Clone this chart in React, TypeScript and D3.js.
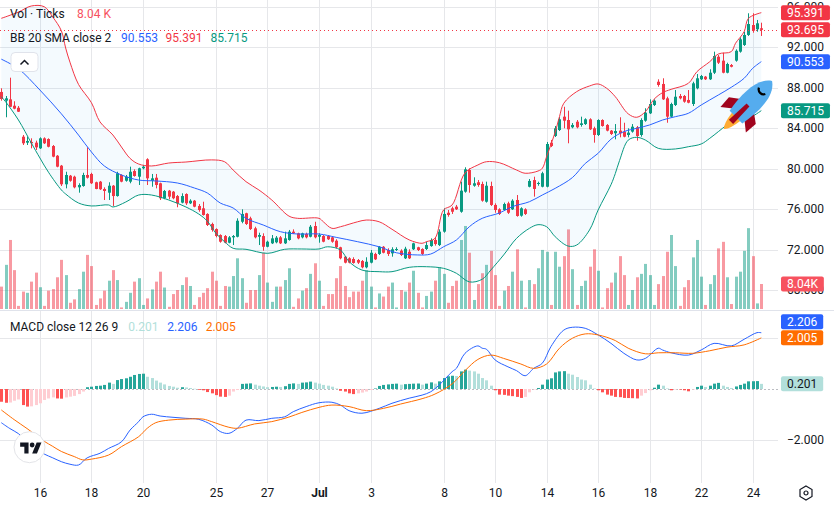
import * as d3 from 'd3';

// 4h candles, index 0 = first visible bar
const opens = [
  87.56, 86.7, 86.83, 86.2, 86.0, 83.14, 82.55, 82.62, 82.55, 81.99,
  82.98, 82.91, 82.22, 81.26, 80.28, 78.44, 79.29, 79.19, 78.14, 78.27,
  79.36, 79.46, 78.64, 78.7, 77.98, 77.61, 78.3, 77.28, 79.36, 78.79,
  78.7, 79.75, 79.19, 80.02, 80.91, 78.79, 79.09, 78.54, 77.06, 77.81,
  77.71, 77.28, 76.63, 77.48, 76.56, 76.82, 76.3, 76.07, 75.51, 74.52,
  74.02, 73.43, 73.33, 72.67, 73.2, 73.26, 74.74, 75.58, 75.08, 74.09,
  73.26, 73.33, 72.27, 72.61, 72.71, 73.2, 72.61, 72.94, 73.76, 73.6,
  73.2, 73.53, 73.26, 74.32, 73.26, 73.33, 73.33, 73.2, 72.87, 72.22,
  71.29, 71.13, 71.06, 70.96, 70.86, 70.24, 70.7, 71.56, 71.56, 72.27,
  71.95, 71.62, 71.95, 71.88, 71.13, 71.78, 72.02, 72.22, 72.05, 72.05,
  72.34, 72.94, 72.44, 73.76, 75.63, 76.07, 76.23, 75.73, 77.71, 79.85,
  78.3, 78.64, 78.47, 76.72, 78.27, 76.4, 75.97, 75.9, 76.56, 75.97,
  76.89, 75.34, 75.97, 78.2, 78.86, 78.47, 78.2, 78.2, 82.55, 83.21,
  83.8, 85.12, 84.79, 84.07, 84.62, 84.3, 84.39, 84.86, 83.97, 83.31,
  84.79, 84.3, 83.74, 83.48, 83.74, 83.64, 83.31, 83.64, 84.07, 83.31,
  84.72, 85.45, 86.27, 88.57, 88.35, 86.93, 85.12, 86.27, 87.16, 87.16,
  86.77, 86.37, 87.92, 88.81, 89.07, 88.81, 89.46, 91.04, 90.65, 89.46,
  90.22, 90.65, 91.54, 92.2, 93.19, 94.17, 93.75, 93.85,
];
const highs = [
  87.92, 87.16, 88.97, 86.64, 86.17, 83.31, 83.14, 82.98, 82.75, 83.08,
  83.08, 82.98, 82.32, 81.33, 80.35, 79.68, 79.36, 79.29, 78.54, 79.58,
  82.09, 79.58, 78.7, 78.77, 78.14, 78.64, 78.37, 79.68, 79.43, 79.36,
  80.18, 79.92, 80.08, 80.35, 81.01, 79.46, 79.46, 78.6, 77.88, 77.88,
  77.78, 77.38, 77.55, 77.55, 76.96, 76.89, 76.49, 76.72, 75.58, 74.65,
  74.09, 73.5, 73.43, 73.33, 73.43, 75.08, 75.97, 75.63, 75.24, 74.25,
  73.66, 73.6, 72.87, 73.43, 73.33, 73.33, 73.76, 73.93, 73.99, 73.66,
  73.66, 73.66, 74.42, 74.74, 73.6, 73.43, 73.43, 73.33, 73.01, 72.27,
  71.36, 71.23, 71.23, 71.06, 70.96, 71.23, 71.95, 71.68, 72.34, 72.34,
  72.12, 72.22, 72.22, 72.02, 72.27, 72.02, 72.67, 72.27, 72.12, 72.77,
  73.1, 73.2, 73.99, 76.07, 75.9, 76.23, 76.4, 78.7, 80.12, 80.02,
  79.13, 78.86, 78.7, 78.7, 78.7, 76.56, 76.07, 76.63, 76.72, 76.96,
  77.38, 76.17, 76.07, 78.96, 79.19, 78.7, 79.68, 82.62, 82.82, 84.2,
  85.09, 86.1, 85.71, 84.49, 84.79, 85.12, 84.96, 84.96, 84.13, 84.86,
  84.86, 84.39, 83.8, 84.39, 85.06, 84.52, 83.97, 84.39, 84.2, 84.96,
  85.95, 86.83, 86.83, 88.81, 88.91, 87.09, 86.5, 87.75, 87.36, 87.26,
  87.75, 88.57, 89.33, 89.24, 89.14, 89.8, 91.54, 91.21, 91.44, 90.45,
  90.32, 91.77, 92.96, 93.51, 95.33, 95.33, 94.67, 94.4,
];
const lows = [
  86.7, 85.06, 86.07, 85.85, 85.58, 82.32, 82.32, 81.99, 81.83, 81.93,
  82.42, 82.09, 81.11, 80.12, 78.27, 78.04, 78.7, 78.04, 77.61, 78.2,
  79.01, 78.47, 77.95, 77.88, 76.89, 76.89, 76.3, 77.22, 78.64, 78.7,
  78.54, 79.19, 78.37, 79.92, 78.37, 78.2, 78.04, 76.89, 76.96, 76.96,
  76.96, 76.17, 76.56, 76.4, 76.49, 76.17, 75.73, 75.35, 74.32, 73.76,
  73.2, 72.67, 72.61, 72.61, 72.44, 73.2, 74.59, 74.42, 73.93, 73.1,
  72.44, 71.88, 72.22, 72.54, 72.61, 72.54, 72.54, 72.87, 73.53, 73.01,
  73.1, 73.1, 73.2, 73.1, 72.67, 72.71, 72.94, 72.67, 72.12, 71.03,
  70.63, 70.63, 70.6, 70.57, 70.14, 70.14, 70.63, 70.96, 71.46, 71.62,
  71.36, 71.29, 71.85, 71.36, 71.06, 71.06, 71.95, 71.85, 71.46, 71.95,
  72.27, 72.38, 72.34, 73.66, 75.24, 75.51, 75.9, 75.63, 77.61, 77.61,
  78.2, 78.2, 76.72, 76.63, 76.3, 75.63, 75.41, 75.83, 75.51, 75.9,
  75.24, 75.24, 75.41, 78.14, 77.22, 78.3, 78.14, 78.14, 82.12, 83.11,
  83.7, 83.97, 82.49, 83.97, 83.97, 84.13, 84.3, 83.8, 82.55, 83.21,
  84.13, 83.67, 83.31, 82.88, 83.08, 83.08, 83.08, 83.54, 82.75, 83.14,
  84.62, 85.38, 86.17, 88.08, 86.77, 84.52, 85.06, 86.17, 86.83, 86.5,
  86.44, 86.17, 87.82, 88.74, 88.74, 88.74, 89.33, 90.32, 89.4, 89.4,
  89.99, 90.55, 91.44, 92.1, 93.09, 93.41, 93.51, 93.09,
];
const closes = [
  86.86, 86.93, 86.1, 85.91, 85.61, 82.49, 82.72, 82.49, 82.09, 82.98,
  82.49, 82.15, 81.17, 80.18, 78.44, 79.36, 78.79, 78.14, 78.37, 79.36,
  79.09, 78.54, 77.98, 77.95, 77.78, 78.3, 77.28, 79.53, 78.7, 79.19,
  79.68, 79.26, 80.02, 80.18, 79.03, 79.03, 78.37, 77.06, 77.78, 77.22,
  77.06, 76.56, 77.28, 76.56, 76.82, 76.23, 75.9, 75.41, 74.42, 73.93,
  73.33, 72.77, 72.67, 73.2, 73.33, 74.84, 75.51, 74.52, 74.02, 73.2,
  73.43, 72.27, 72.77, 73.1, 73.17, 72.61, 73.1, 73.76, 73.6, 73.1,
  73.6, 73.2, 74.25, 73.2, 73.43, 72.77, 73.01, 72.77, 72.22, 71.13,
  70.7, 70.7, 70.67, 70.7, 70.24, 70.79, 71.68, 71.03, 72.27, 71.68,
  71.56, 72.02, 72.05, 71.46, 72.08, 71.13, 72.61, 71.95, 71.56, 72.44,
  72.94, 72.54, 73.76, 75.51, 75.41, 75.73, 75.97, 77.81, 79.92, 78.37,
  78.54, 78.37, 76.82, 78.3, 76.4, 75.9, 75.51, 76.49, 75.63, 76.82,
  75.31, 76.07, 75.51, 78.77, 77.98, 78.57, 79.53, 82.42, 82.22, 83.97,
  84.86, 84.72, 83.87, 84.3, 84.07, 84.46, 84.86, 83.87, 83.31, 84.79,
  84.2, 83.74, 83.41, 83.7, 83.48, 83.14, 83.54, 84.13, 83.21, 84.79,
  85.51, 86.37, 86.7, 88.25, 86.83, 85.12, 86.37, 87.09, 86.93, 86.6,
  86.5, 88.41, 88.91, 89.14, 88.81, 89.46, 91.11, 90.45, 89.46, 90.32,
  90.05, 91.63, 92.76, 93.19, 94.27, 93.61, 94.34, 93.695,
];
// volume in thousands
const volumes = [
  7.2, 14.2, 22.2, 12.5, 1.0, 5.6, 5.2, 8.8, 11.7, 7.0,
  1.0, 5.9, 6.4, 10.2, 15.8, 10.9, 2.0, 3.1, 6.4, 12.0,
  17.4, 13.8, 1.3, 3.4, 5.9, 9.1, 12.5, 9.3, 0.5, 2.3,
  5.2, 8.8, 9.9, 1.3, 3.4, 6.3, 8.8, 12.0, 6.9, 0.7,
  4.8, 6.1, 7.7, 10.2, 7.4, 1.3, 3.8, 5.2, 6.7, 12.0,
  9.1, 1.0, 7.4, 7.2, 10.6, 16.3, 9.9, 2.0, 6.1, 6.1,
  10.9, 18.1, 8.5, 2.3, 7.2, 7.2, 9.3, 13.1, 0.7, 3.4,
  5.9, 6.7, 11.3, 14.7, 9.1, 1.0, 4.8, 4.8, 9.9, 13.8,
  7.4, 3.8, 5.6, 5.6, 9.1, 12.5, 7.2, 0.5, 5.0, 4.0,
  7.2, 8.5, 0.5, 6.1, 5.6, 8.5, 12.3, 5.2, 0.5, 4.2,
  5.6, 9.1, 13.5, 11.3, 2.0, 7.4, 9.1, 22.2, 26.7, 18.1,
  2.9, 8.0, 11.5, 14.2, 18.7, 10.9, 1.0, 5.9, 7.4, 12.0,
  19.2, 9.1, 0.5, 9.3, 8.0, 13.1, 19.0, 18.4, 1.3, 18.4,
  13.6, 17.0, 25.6, 12.8, 1.3, 7.4, 9.1, 13.6, 19.2, 12.3,
  0.5, 6.7, 8.5, 11.7, 17.0, 10.9, 1.3, 6.1, 10.2, 11.3,
  14.5, 10.9, 1.3, 8.0, 10.6, 18.4, 23.8, 13.8, 1.0, 7.0,
  9.3, 16.6, 22.2, 10.4, 1.3, 8.0, 10.9, 19.5, 21.6, 10.2,
  1.6, 10.4, 12.0, 18.7, 26.0, 17.0, 1.8, 8.04,
];
const macdHist = [
  -0.5, -0.54, -0.53, -0.46, -0.41, -0.63, -0.69, -0.68, -0.63, -0.56,
  -0.43, -0.37, -0.33, -0.37, -0.38, -0.33, -0.3, -0.27, -0.2, -0.1,
  0.07, 0.09, 0.12, 0.13, 0.16, 0.25, 0.2, 0.35, 0.39, 0.42,
  0.48, 0.55, 0.59, 0.6, 0.48, 0.43, 0.33, 0.25, 0.18, 0.12,
  0.09, 0.05, 0.07, 0.06, 0.04, 0.01, -0.03, -0.05, -0.12, -0.17,
  -0.24, -0.3, -0.31, -0.26, -0.1, -0.04, 0.2, 0.21, 0.22, 0.17,
  0.13, 0.1, 0.07, 0.08, 0.09, 0.08, 0.11, 0.2, 0.22, 0.2,
  0.25, 0.26, 0.29, 0.25, 0.21, 0.16, 0.13, 0.09, 0.02, -0.07,
  -0.1, -0.17, -0.2, -0.17, -0.14, -0.1, -0.04, 0.02, 0.12, 0.16,
  0.18, 0.2, 0.21, 0.17, 0.19, 0.2, 0.21, 0.215, 0.17, 0.21,
  0.26, 0.21, 0.3, 0.43, 0.5, 0.52, 0.51, 0.69, 0.76, 0.72,
  0.69, 0.6, 0.43, 0.34, 0.13, -0.05, -0.22, -0.23, -0.26, -0.28,
  -0.31, -0.35, -0.31, -0.13, -0.02, 0.04, 0.17, 0.37, 0.42, 0.65,
  0.69, 0.7, 0.6, 0.56, 0.47, 0.37, 0.34, 0.17, 0.02, -0.05,
  -0.13, -0.22, -0.26, -0.31, -0.32, -0.35, -0.355, -0.36, -0.37, -0.26,
  -0.16, -0.05, 0.05, 0.17, 0.13, 0.02, -0.05, -0.02, -0.02, -0.05,
  -0.09, -0.02, 0.08, 0.13, 0.08, 0.13, 0.21, 0.24, 0.13, 0.08,
  0.04, 0.1, 0.16, 0.21, 0.3, 0.305, 0.31, 0.201,
];

// indicator lines, [bar index, value]
const bbUpper: [number, number][] = [
  [0, 94.83], [4, 95.45], [7, 96.05], [10, 95.98], [12, 94.96], [14, 93.6], [15, 91.9], [16, 90.5],
  [18, 88.3], [21, 86.5], [23, 84.6], [26, 83.31], [28, 82.12], [30, 81.0], [32, 80.44], [35, 80.25],
  [39, 80.54], [43, 80.64], [49, 80.85], [52, 80.67], [54, 79.85], [57, 78.7], [60, 77.88], [63, 76.89],
  [67, 75.3], [69, 75.08], [74, 75.08], [75, 74.74], [77, 74.09], [79, 74.25], [83, 74.74], [85, 74.91],
  [88, 74.74], [91, 74.0], [95, 72.95], [98, 72.61], [99, 72.77], [101, 73.1], [103, 75.9], [105, 76.4],
  [108, 79.56], [111, 80.35], [113, 80.67], [116, 80.57], [120, 79.85], [122, 79.53], [125, 79.75],
  [126, 80.02], [127, 81.17], [129, 83.6], [130, 85.12], [131, 86.44], [134, 87.59], [137, 88.15],
  [139, 88.35], [141, 87.92], [143, 87.09], [146, 85.4], [148, 85.06], [150, 85.61], [152, 86.83],
  [154, 87.49], [156, 87.82], [160, 88.41], [162, 89.56], [165, 90.55], [167, 91.31], [170, 91.54],
  [171, 92.37], [173, 93.51], [174, 94.83], [177, 95.391],
];
const bbBasis: [number, number][] = [
  [0, 90.8], [4, 89.85], [9, 87.75], [14, 85.4], [18, 83.3], [21, 81.63], [24, 80.25], [28, 79.36],
  [32, 78.86], [36, 78.77], [41, 78.57], [45, 78.07], [48, 77.58], [51, 76.59], [54, 76.1], [57, 75.08],
  [61, 74.42], [65, 73.76], [69, 73.53], [74, 73.53], [78, 73.2], [83, 72.77], [88, 72.27], [92, 71.68],
  [97, 71.46], [100, 71.55], [103, 72.27], [106, 72.94], [109, 74.25], [112, 75.08], [116, 75.6],
  [119, 76.23], [123, 76.72], [126, 77.38], [129, 78.04], [133, 79.1], [136, 80.5], [139, 81.5],
  [142, 82.9], [145, 83.64], [148, 83.97], [151, 84.3], [154, 84.79], [157, 85.12], [160, 85.45],
  [163, 86.27], [167, 87.26], [170, 88.02], [173, 88.91], [175, 89.9], [177, 90.553],
];
const bbLower: [number, number][] = [
  [0, 87.09], [1, 86.6], [4, 84.79], [7, 82.52], [9, 81.04], [11, 79.63], [14, 77.88], [15, 77.48],
  [18, 76.59], [21, 76.3], [25, 76.4], [26, 76.2], [29, 76.69], [32, 77.38], [35, 77.38], [39, 76.89],
  [43, 76.2], [46, 75.5], [48, 74.8], [50, 73.6], [52, 72.77], [54, 72.12], [57, 72.02], [62, 71.62],
  [66, 72.02], [70, 72.05], [74, 72.05], [76, 72.27], [79, 71.95], [81, 70.8], [84, 69.97], [88, 69.81],
  [91, 69.81], [95, 70.24], [99, 70.3], [103, 70.14], [106, 69.65], [109, 68.8], [112, 69.06],
  [114, 69.97], [117, 71.46], [120, 73.1], [123, 74.09], [125, 74.45], [127, 74.25], [129, 73.26],
  [132, 72.34], [134, 72.44], [137, 73.93], [139, 75.9], [142, 78.4], [143, 79.5], [144, 80.8],
  [146, 82.8], [148, 83.08], [150, 82.81], [153, 81.99], [157, 81.93], [160, 82.15], [163, 82.42],
  [165, 82.98], [167, 83.64], [169, 84.3], [171, 84.79], [174, 84.96], [177, 85.715],
];
const macdLine: [number, number][] = [
  [0, -1.32], [2, -1.55], [4, -1.75], [6, -2.05], [8, -2.35], [10, -2.55], [12, -2.7], [14, -2.85],
  [16, -2.95], [18, -2.98], [20, -2.7], [23, -2.52], [25, -2.33], [28, -2.07], [30, -1.61], [32, -1.28],
  [33, -1.09], [35, -0.99], [37, -1.06], [40, -1.11], [43, -1.15], [46, -1.19], [49, -1.41], [51, -1.67],
  [53, -1.74], [55, -1.54], [57, -1.22], [60, -1.24], [63, -1.15], [66, -1.09], [68, -0.89], [71, -0.69],
  [74, -0.54], [77, -0.52], [79, -0.63], [81, -0.85], [84, -0.95], [88, -0.76], [91, -0.56], [95, -0.36],
  [98, -0.24], [100, -0.11], [102, 0.16], [105, 0.68], [106, 0.81], [108, 1.4], [111, 1.69], [112, 1.6],
  [113, 1.56], [115, 1.14], [118, 0.87], [120, 0.72], [122, 0.52], [124, 0.81], [126, 1.01], [128, 1.66],
  [131, 2.31], [133, 2.42], [136, 2.38], [139, 2.12], [142, 1.79], [145, 1.4], [148, 1.14], [150, 1.2],
  [153, 1.6], [154, 1.53], [156, 1.42], [160, 1.33], [163, 1.53], [166, 1.79], [170, 1.69], [173, 1.95],
  [176, 2.21], [177, 2.206],
];
const signalLine: [number, number][] = [
  [0, -0.82], [3, -1.2], [6, -1.55], [8, -1.8], [10, -2.05], [12, -2.25], [14, -2.45], [17, -2.65],
  [19, -2.78], [21, -2.75], [25, -2.59], [28, -2.26], [32, -1.87], [34, -1.54], [36, -1.32], [39, -1.22],
  [43, -1.18], [47, -1.18], [49, -1.28], [53, -1.5], [55, -1.54], [59, -1.37], [63, -1.28], [67, -1.1],
  [70, -0.92], [74, -0.72], [77, -0.63], [81, -0.69], [85, -0.85], [89, -0.76], [93, -0.59], [98, -0.38],
  [101, -0.2], [105, 0.2], [108, 0.72], [111, 1.16], [114, 1.33], [117, 1.2], [121, 0.98], [124, 0.81],
  [127, 0.98], [130, 1.6], [133, 1.99], [136, 2.16], [139, 2.12], [143, 1.9], [146, 1.6], [150, 1.38],
  [153, 1.42], [157, 1.42], [161, 1.4], [165, 1.5], [169, 1.64], [173, 1.73], [177, 2.005],
];

const timeTicks: [number, string][] = [
  [9, '16'], [21, '18'], [33, '20'], [50, '25'], [62, '27'], [74, 'Jul'], [86, '3'],
  [103, '8'], [115, '10'], [127, '14'], [139, '16'], [151, '18'], [163, '22'], [175, '24'],
];
const priceTicks = [96, 92, 88, 84, 80, 76, 72, 68];
const macdTicks = [2, -2];

const UP = '#089981';
const DOWN = '#F23645';
const BLUE = '#2962FF';
const ORANGE = '#FF6D00';
const TEXT = '#131722';
const GRID = '#e6e7ea';
const FONT = "Roboto, 'Noto Sans', sans-serif";

const PLOT_R = 778;
const PRICE_B = 309;
const MACD_T = 311;
const MACD_B = 483;
const AXIS_X = 781;
const BOX_H = 15;

const charW = (s: string) =>
  s.split('').reduce((w, ch) => w + (ch === '.' ? 3.2 : ch === 'K' ? 7.4 : ch === '−' ? 7 : 6.75), 0);

type AxisLabel = { y: number; text: string; bg: string; fg: string };

const AxisBox = ({ y, text, bg, fg }: AxisLabel) => (
  <g>
    <rect x={AXIS_X} y={y - BOX_H / 2} width={charW(text) + 12} height={BOX_H} rx={2} fill={bg} />
    <text x={AXIS_X + 6} y={y} dy="0.35em" fontSize={12} fill={fg}>
      {text}
    </text>
  </g>
);

export default function App() {
  const n = closes.length;
  const last = n - 1;
  const x = d3.scaleLinear().domain([0, last]).range([1.25, 761.3]);
  const yP = d3.scaleLinear().domain([72, 92]).range([249.5, 47]);
  const yV = d3.scaleLinear().domain([0, volumes[last]]).range([PRICE_B, 284]);
  const yM = d3.scaleLinear().domain([-2, 0]).range([440, 389]);

  const px = (i: number) => Math.round(x(i)) + 0.5;

  const priceLine = d3
    .line<[number, number]>()
    .x((d) => x(d[0]))
    .y((d) => yP(d[1]))
    .curve(d3.curveCatmullRom.alpha(0.5));
  const macdGen = d3
    .line<[number, number]>()
    .x((d) => x(d[0]))
    .y((d) => yM(d[1]))
    .curve(d3.curveCatmullRom.alpha(0.5));

  const lowerBack = priceLine([...bbLower].reverse()) || '';
  const bandFill = (priceLine(bbUpper) || '') + 'L' + lowerBack.slice(1) + 'Z';

  const histColor = (i: number) => {
    const h = macdHist[i];
    const p = i > 0 ? macdHist[i - 1] : h;
    if (h >= 0) return p < h ? '#26A69A' : '#B2DFDB';
    return p < h ? '#FFCDD2' : '#FF5252';
  };

  const f3 = d3.format('.3f');
  const upLast = bbUpper[bbUpper.length - 1][1];
  const basisLast = bbBasis[bbBasis.length - 1][1];
  const lowLast = bbLower[bbLower.length - 1][1];
  const macdLast = macdLine[macdLine.length - 1][1];
  const sigLast = signalLine[signalLine.length - 1][1];
  const histLast = macdHist[last];
  const volText = d3.format('.2f')(volumes[last]);
  const lastColor = closes[last] >= opens[last] ? UP : DOWN;

  // MACD / signal labels would overlap: push the upper one away
  let macdY = yM(macdLast);
  const sigY = yM(sigLast);
  if (sigY - macdY < BOX_H + 1) macdY = sigY - BOX_H - 1;

  return (
    <div style={{ position: 'absolute', left: 0, top: 0, width: 834, height: 506, background: '#fff' }}>
      <svg width={834} height={506} fontFamily={FONT} style={{ display: 'block' }}>
        <defs>
          <clipPath id="pricePane">
            <rect x={0} y={0} width={PLOT_R} height={PRICE_B} />
          </clipPath>
          <clipPath id="macdPane">
            <rect x={0} y={MACD_T} width={PLOT_R} height={MACD_B - MACD_T} />
          </clipPath>
        </defs>
        <rect width={834} height={506} fill="#fff" />

        {/* grid */}
        {priceTicks.map((t) => (
          <line key={'hg' + t} x1={0} x2={PLOT_R} y1={Math.round(yP(t)) + 0.5} y2={Math.round(yP(t)) + 0.5} stroke={GRID} />
        ))}
        {macdTicks.map((t) => (
          <line key={'mg' + t} x1={0} x2={PLOT_R} y1={Math.round(yM(t)) + 0.5} y2={Math.round(yM(t)) + 0.5} stroke={GRID} />
        ))}
        {timeTicks.map(([i]) => (
          <g key={'vg' + i}>
            <line x1={px(i)} x2={px(i)} y1={0} y2={PRICE_B} stroke={GRID} />
            <line x1={px(i)} x2={px(i)} y1={MACD_T} y2={MACD_B} stroke={GRID} />
          </g>
        ))}
        <line x1={0} x2={834} y1={310.5} y2={310.5} stroke="#e0e3eb" />

        {/* price pane */}
        <g clipPath="url(#pricePane)">
          {volumes.map((v, i) => (
            <rect
              key={'v' + i}
              x={px(i) - 1.5}
              y={yV(v)}
              width={3}
              height={PRICE_B - yV(v)}
              fill={closes[i] >= opens[i] ? UP : DOWN}
              fillOpacity={0.5}
            />
          ))}
          <path d={bandFill} fill="rgba(33,150,243,0.05)" stroke="none" />
          {opens.map((o, i) => {
            const c = closes[i];
            const col = c >= o ? UP : DOWN;
            const top = yP(Math.max(o, c));
            const bot = yP(Math.min(o, c));
            return (
              <g key={'c' + i}>
                <line x1={px(i)} x2={px(i)} y1={yP(highs[i])} y2={yP(lows[i])} stroke={col} />
                <rect x={px(i) - 1.5} y={top} width={3} height={Math.max(1, bot - top)} fill={col} />
              </g>
            );
          })}
          <path d={priceLine(bbUpper) || ''} fill="none" stroke={DOWN} strokeWidth={1} />
          <path d={priceLine(bbBasis) || ''} fill="none" stroke={BLUE} strokeWidth={1} />
          <path d={priceLine(bbLower) || ''} fill="none" stroke={UP} strokeWidth={1} />
          <line
            x1={0}
            x2={PLOT_R}
            y1={Math.round(yP(closes[last])) + 0.5}
            y2={Math.round(yP(closes[last])) + 0.5}
            stroke={lastColor}
            strokeDasharray="1 3"
          />
        </g>

        {/* macd pane */}
        <g clipPath="url(#macdPane)">
          <line x1={0} x2={PLOT_R} y1={yM(0) + 0.5} y2={yM(0) + 0.5} stroke="rgba(120,123,134,0.5)" strokeDasharray="2 2" />
          {macdHist.map((h, i) => (
            <rect
              key={'h' + i}
              x={px(i) - 1.5}
              y={Math.min(yM(h), yM(0))}
              width={3}
              height={Math.max(0.5, Math.abs(yM(h) - yM(0)))}
              fill={histColor(i)}
            />
          ))}
          <path d={macdGen(macdLine) || ''} fill="none" stroke={BLUE} strokeWidth={1} />
          <path d={macdGen(signalLine) || ''} fill="none" stroke={ORANGE} strokeWidth={1} />
        </g>

        {/* legends */}
        <g fontSize={12}>
          <text x={10} y={17.5} fill={TEXT}>Vol · Ticks</text>
          <text x={77} y={17.5} fill="#f7525f">{volText} K</text>
          <text x={10} y={41.7} fill={TEXT}>BB 20 SMA close 2</text>
          <text x={121} y={41.7} fill={BLUE}>{f3(basisLast)}</text>
          <text x={165.5} y={41.7} fill={DOWN}>{f3(upLast)}</text>
          <text x={210.5} y={41.7} fill={UP}>{f3(lowLast)}</text>
          <text x={10} y={330.7} fill={TEXT}>MACD close 12 26 9</text>
          <text x={128.3} y={330.7} fill="#B2DFDB">{f3(histLast)}</text>
          <text x={167.3} y={330.7} fill={BLUE}>{f3(macdLast)}</text>
          <text x={205.7} y={330.7} fill={ORANGE}>{f3(sigLast)}</text>
        </g>
        <rect x={11} y={52.5} width={27} height={19} rx={4} fill="#fff" stroke="#e0e3eb" />
        <path d="M20.5 64.5 L24.5 60.5 L28.5 64.5" fill="none" stroke={TEXT} strokeWidth={1.5} />

        {/* rocket */}
        <g transform="translate(748,105) rotate(45)">
          <path d="M-8,0 L-19,8 L-18,21 L-8,13 Z" fill="#A0041E" />
          <path d="M8,0 L19,8 L18,21 L8,13 Z" fill="#A0041E" />
          <path d="M-6,16 Q-4,31 0,34 Q4,31 6,16 Z" fill="#FFAC33" />
          <path d="M0,-34 C12,-26 13,-6 9,17 L-9,17 C-13,-6 -12,-26 0,-34 Z" fill="#55ACEE" />
          <path d="M-2,0 L2,0 L3,24 L-3,24 Z" fill="#A0041E" />
          <path d="M-4.5,-20 A5,5 0 0,0 4.5,-20" fill="none" stroke="#000" strokeWidth={2.2} />
        </g>

        {/* tradingview logo */}
        <circle cx={29.5} cy={447.2} r={15.5} fill="#fff" stroke="#e3e4e8" />
        <g transform="translate(20.15,440.2) scale(0.6)" fill={TEXT}>
          <path d="M14 22H7V11H0V4h14v18zM28 22h-8l7.5-18h8L28 22z" />
          <circle cx={20} cy={8} r={4} />
        </g>

        {/* right axis */}
        <g fontSize={12} fill={TEXT}>
          {priceTicks.map((t) => (
            <text key={'pt' + t} x={787} y={yP(t)} dy="0.35em">{f3(t)}</text>
          ))}
          {macdTicks.map((t) => (
            <text key={'mt' + t} x={787} y={yM(t)} dy="0.35em">{t < 0 ? '−' + f3(-t) : f3(t)}</text>
          ))}
        </g>
        <AxisBox y={yP(upLast)} text={f3(upLast)} bg={DOWN} fg="#fff" />
        <AxisBox y={yP(closes[last])} text={f3(closes[last])} bg={lastColor} fg="#fff" />
        <AxisBox y={yP(basisLast)} text={f3(basisLast)} bg={BLUE} fg="#fff" />
        <AxisBox y={yP(lowLast)} text={f3(lowLast)} bg={UP} fg="#fff" />
        <AxisBox y={yV(volumes[last])} text={volText + 'K'} bg="#f7525f" fg="#fff" />
        <AxisBox y={macdY} text={f3(macdLast)} bg={BLUE} fg="#fff" />
        <AxisBox y={sigY} text={f3(sigLast)} bg={ORANGE} fg="#fff" />
        <AxisBox y={yM(histLast)} text={f3(histLast)} bg="#B2DFDB" fg={TEXT} />

        {/* time axis */}
        <g fontSize={12} fill={TEXT} textAnchor="middle">
          {timeTicks.map(([i, label]) => (
            <text key={'tt' + i} x={px(i)} y={497} fontWeight={label === 'Jul' ? 700 : 400}>
              {label}
            </text>
          ))}
        </g>
        <g transform="translate(806,493)" fill="none" stroke={TEXT} strokeWidth={1.2}>
          <path d="M0,-7 L6,-3.5 L6,3.5 L0,7 L-6,3.5 L-6,-3.5 Z" />
          <circle r={2} />
        </g>
      </svg>
    </div>
  );
}
